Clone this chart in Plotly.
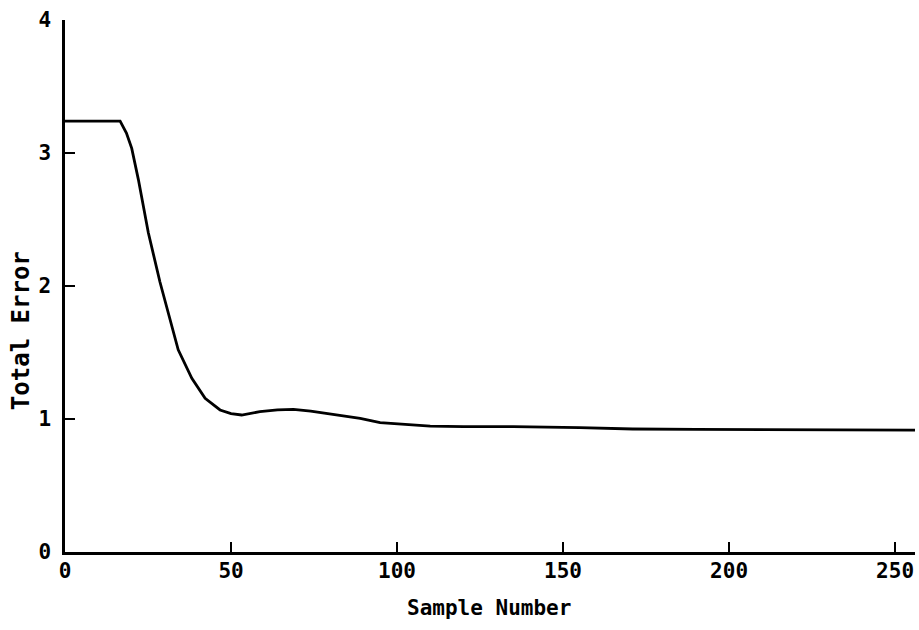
import plotly.graph_objects as go

sample = [0, 5, 10, 16.6, 18.5, 20.1, 22.1, 25.1, 28.6, 31.6, 34.1, 38.2, 42.2, 46.7, 50, 53.2,
          58.7, 64, 68.8, 74, 78.8, 84, 88.9, 94.9, 100.9, 110, 120, 135, 155, 171, 190, 210, 230, 256]
total_error = [3.24, 3.24, 3.24, 3.24, 3.15, 3.035, 2.80, 2.40, 2.03, 1.74, 1.52, 1.306, 1.156, 1.068, 1.04, 1.03,
               1.055, 1.068, 1.073, 1.06, 1.043, 1.02, 1.005, 0.972, 0.962, 0.947, 0.942, 0.942, 0.935, 0.925, 0.922, 0.92, 0.918, 0.917]

x_ticks = [0, 50, 100, 150, 200, 250]
y_ticks = [0, 1, 2, 3, 4]

FONT = "DejaVu Sans Mono"

fig = go.Figure()
fig.add_trace(go.Scatter(x=sample, y=total_error, mode="lines",
                         line=dict(color="black", width=2.8), showlegend=False))

fig.update_layout(
    width=919, height=630,
    margin=dict(l=65, r=4, t=20, b=78),
    paper_bgcolor="white", plot_bgcolor="white",
    font=dict(family=FONT, color="black", size=19),
    xaxis=dict(range=[0, 256], tickvals=x_ticks, ticks="inside", ticklen=10, tickwidth=2,
               tickcolor="black", showline=True, linecolor="black", linewidth=2.5,
               showgrid=False, zeroline=False, automargin=False,
               tickfont=dict(size=21, family=FONT, weight="bold"), ticklabelstandoff=-2),
    yaxis=dict(range=[0, 4], tickvals=y_ticks, ticks="inside", ticklen=10, tickwidth=2,
               tickcolor="black", showline=True, linecolor="black", linewidth=2.5,
               showgrid=False, zeroline=False, automargin=False,
               tickfont=dict(size=21, family=FONT, weight="bold"), ticklabelstandoff=7),
    annotations=[
        dict(text="Sample Number", xref="paper", yref="paper", x=0.499, y=-0.105,
             xanchor="center", yanchor="middle", showarrow=False,
             font=dict(size=21, family=FONT, weight="bold")),
        dict(text="Total Error", xref="paper", y=0.417, x=-0.0518, yref="paper",
             xanchor="center", yanchor="middle", textangle=-90, showarrow=False,
             font=dict(size=24, family=FONT, weight="bold")),
    ],
)

fig.write_html("out.html", config={"displayModeBar": False},
               post_script="document.body.style.margin='0';")
